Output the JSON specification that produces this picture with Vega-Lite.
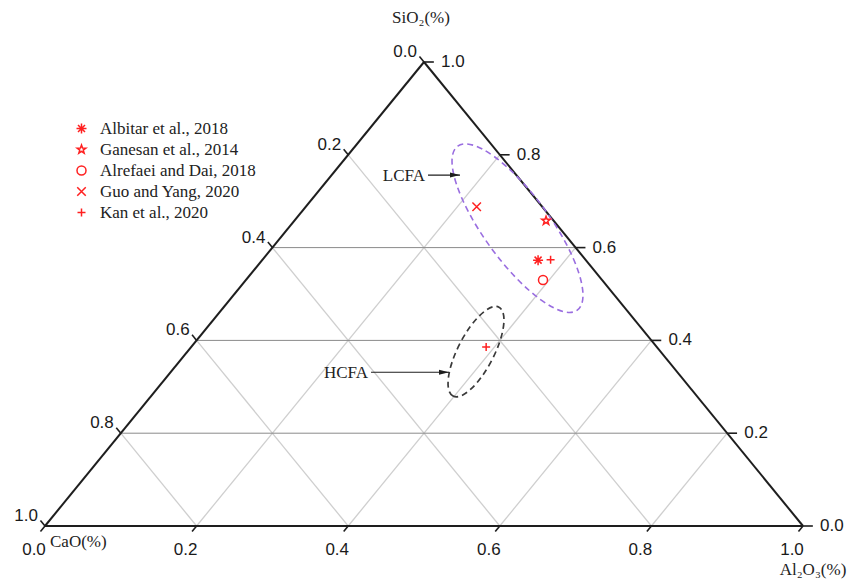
{
  "$schema": "https://vega.github.io/schema/vega-lite/v6.json",
  "width": 758,
  "height": 464,
  "autosize": {"type": "none"},
  "padding": {"left": 45, "top": 62, "right": 48, "bottom": 54},
  "background": "white",
  "config": {"view": {"stroke": null}},
  "data": {"values": [
    {"kind": "edge", "si": 0, "al": 0, "si2": 0, "al2": 1},
    {"kind": "edge", "si": 0, "al": 0, "si2": 1, "al2": 0},
    {"kind": "edge", "si": 0, "al": 1, "si2": 1, "al2": 0},
    {"kind": "hgrid", "si": 0.2, "al": 0, "si2": 0.2, "al2": 0.8},
    {"kind": "hgrid", "si": 0.4, "al": 0, "si2": 0.4, "al2": 0.6},
    {"kind": "hgrid", "si": 0.6, "al": 0, "si2": 0.6, "al2": 0.4},
    {"kind": "dgrid", "si": 0, "al": 0.2, "si2": 0.8, "al2": 0.2},
    {"kind": "dgrid", "si": 0, "al": 0.4, "si2": 0.6, "al2": 0.4},
    {"kind": "dgrid", "si": 0, "al": 0.6, "si2": 0.4, "al2": 0.6},
    {"kind": "dgrid", "si": 0, "al": 0.8, "si2": 0.2, "al2": 0.8},
    {"kind": "dgrid", "si": 0, "al": 0.8, "si2": 0.8, "al2": 0},
    {"kind": "dgrid", "si": 0, "al": 0.6, "si2": 0.6, "al2": 0},
    {"kind": "dgrid", "si": 0, "al": 0.4, "si2": 0.4, "al2": 0},
    {"kind": "dgrid", "si": 0, "al": 0.2, "si2": 0.2, "al2": 0},
    {"kind": "tick", "si": 1, "al": 0, "si2": 1.012, "al2": -0.012},
    {"kind": "tick", "si": 0.8, "al": 0, "si2": 0.812, "al2": -0.012},
    {"kind": "tick", "si": 0.6, "al": 0, "si2": 0.612, "al2": -0.012},
    {"kind": "tick", "si": 0.4, "al": 0, "si2": 0.412, "al2": -0.012},
    {"kind": "tick", "si": 0.2, "al": 0, "si2": 0.212, "al2": -0.012},
    {"kind": "tick", "si": 0, "al": 0, "si2": 0.012, "al2": -0.012},
    {"kind": "tick", "si": 0, "al": 0, "si2": -0.012, "al2": 0},
    {"kind": "tick", "si": 0, "al": 0.2, "si2": -0.012, "al2": 0.2},
    {"kind": "tick", "si": 0, "al": 0.4, "si2": -0.012, "al2": 0.4},
    {"kind": "tick", "si": 0, "al": 0.6, "si2": -0.012, "al2": 0.6},
    {"kind": "tick", "si": 0, "al": 0.8, "si2": -0.012, "al2": 0.8},
    {"kind": "tick", "si": 0, "al": 1, "si2": -0.012, "al2": 1},
    {"kind": "tick", "si": 0, "al": 1, "si2": 0, "al2": 1.013},
    {"kind": "tick", "si": 0.2, "al": 0.8, "si2": 0.2, "al2": 0.813},
    {"kind": "tick", "si": 0.4, "al": 0.6, "si2": 0.4, "al2": 0.613},
    {"kind": "tick", "si": 0.6, "al": 0.4, "si2": 0.6, "al2": 0.413},
    {"kind": "tick", "si": 0.8, "al": 0.2, "si2": 0.8, "al2": 0.213},
    {"kind": "tick", "si": 1, "al": 0, "si2": 1, "al2": 0.013},
    {"kind": "labL", "si": 1, "al": 0, "text": "0.0"},
    {"kind": "labL", "si": 0.8, "al": 0, "text": "0.2"},
    {"kind": "labL", "si": 0.6, "al": 0, "text": "0.4"},
    {"kind": "labL", "si": 0.4, "al": 0, "text": "0.6"},
    {"kind": "labL", "si": 0.2, "al": 0, "text": "0.8"},
    {"kind": "labL", "si": 0, "al": 0, "text": "1.0"},
    {"kind": "labR", "si": 0, "al": 1, "text": "0.0"},
    {"kind": "labR", "si": 0.2, "al": 0.8, "text": "0.2"},
    {"kind": "labR", "si": 0.4, "al": 0.6, "text": "0.4"},
    {"kind": "labR", "si": 0.6, "al": 0.4, "text": "0.6"},
    {"kind": "labR", "si": 0.8, "al": 0.2, "text": "0.8"},
    {"kind": "labR", "si": 1, "al": 0, "text": "1.0"},
    {"kind": "labB", "si": 0, "al": 0, "text": "0.0"},
    {"kind": "labB", "si": 0, "al": 0.2, "text": "0.2"},
    {"kind": "labB", "si": 0, "al": 0.4, "text": "0.4"},
    {"kind": "labB", "si": 0, "al": 0.6, "text": "0.6"},
    {"kind": "labB", "si": 0, "al": 0.8, "text": "0.8"},
    {"kind": "labB", "si": 0, "al": 1, "text": "1.0"},
    {"kind": "tTop", "si": 1, "al": 0, "text": "SiO₂(%)"},
    {"kind": "tLeft", "si": 0, "al": 0, "text": "CaO(%)"},
    {"kind": "tRight", "si": 0, "al": 1, "text": "Al₂O₃(%)"},
    {"kind": "ellL", "si": 0.6419, "al": 0.3024},
    {"kind": "ellH", "si": 0.3758, "al": 0.3807},
    {"kind": "arrow", "si": 0.7562, "al": 0.1272, "si2": 0.7562, "al2": 0.1694, "text": "LCFA"},
    {"kind": "arrow", "si": 0.3312, "al": 0.2645, "si2": 0.3312, "al2": 0.3674, "text": "HCFA"},
    {"kind": "pt", "source": "Albitar et al., 2018", "si": 0.573, "al": 0.364, "cao": 0.063},
    {"kind": "pt", "source": "Ganesan et al., 2014", "si": 0.658, "al": 0.332, "cao": 0.010},
    {"kind": "pt", "source": "Alrefaei and Dai, 2018", "si": 0.530, "al": 0.392, "cao": 0.078},
    {"kind": "pt", "source": "Guo and Yang, 2020", "si": 0.688, "al": 0.2255, "cao": 0.0865},
    {"kind": "pt", "source": "Kan et al., 2020", "si": 0.574, "al": 0.380, "cao": 0.046},
    {"kind": "pt", "source": "Kan et al., 2020", "si": 0.386, "al": 0.389, "cao": 0.225}
  ]},
  "transform": [
    {"calculate": "datum.al + datum.si / 2", "as": "x"},
    {"calculate": "datum.si", "as": "y"},
    {"calculate": "datum.al2 + datum.si2 / 2", "as": "x2"},
    {"calculate": "datum.si2", "as": "y2"}
  ],
  "encoding": {
    "x": {"field": "x", "type": "quantitative", "scale": {"domain": [0, 1], "nice": false, "zero": false}, "axis": null},
    "y": {"field": "y", "type": "quantitative", "scale": {"domain": [0, 1], "nice": false, "zero": false}, "axis": null}
  },
  "layer": [
    {
      "transform": [{"filter": "datum.kind === 'dgrid'"}],
      "mark": {"type": "rule", "color": "#cfcfcf", "strokeWidth": 1.3},
      "encoding": {"x2": {"field": "x2"}, "y2": {"field": "y2"}}
    },
    {
      "transform": [{"filter": "datum.kind === 'hgrid'"}],
      "mark": {"type": "rule", "color": "#8a8a8a", "strokeWidth": 1},
      "encoding": {"x2": {"field": "x2"}, "y2": {"field": "y2"}}
    },
    {
      "transform": [{"filter": "datum.kind === 'edge'"}],
      "mark": {"type": "rule", "color": "#1e1e1e", "strokeWidth": 2},
      "encoding": {"x2": {"field": "x2"}, "y2": {"field": "y2"}}
    },
    {
      "transform": [{"filter": "datum.kind === 'tick'"}],
      "mark": {"type": "rule", "color": "#1e1e1e", "strokeWidth": 1.6},
      "encoding": {"x2": {"field": "x2"}, "y2": {"field": "y2"}}
    },
    {
      "transform": [{"filter": "datum.kind === 'ellL'"}],
      "mark": {"type": "point", "filled": false, "shape": "M-1,0C-1,-0.18,-0.55,-0.325,0,-0.325C0.55,-0.325,1,-0.18,1,0C1,0.18,0.55,0.325,0,0.325C-0.55,0.325,-1,0.18,-1,0Z", "size": 41209, "angle": 53.9, "color": "#9a6ee0", "strokeWidth": 1.6, "strokeDash": [6, 4], "opacity": 1}
    },
    {
      "transform": [{"filter": "datum.kind === 'ellH'"}],
      "mark": {"type": "point", "filled": false, "shape": "M-1,0C-1,-0.2,-0.55,-0.36,0,-0.36C0.55,-0.36,1,-0.2,1,0C1,0.2,0.55,0.36,0,0.36C-0.55,0.36,-1,0.2,-1,0Z", "size": 10000, "angle": -62.7, "color": "#3a3a3a", "strokeWidth": 1.7, "strokeDash": [6, 4], "opacity": 1}
    },
    {
      "transform": [{"filter": "datum.kind === 'arrow'"}],
      "mark": {"type": "rule", "color": "#1e1e1e", "strokeWidth": 1.1},
      "encoding": {"x2": {"field": "x2"}, "y2": {"field": "y2"}}
    },
    {
      "transform": [{"filter": "datum.kind === 'arrow'"}],
      "mark": {"type": "point", "filled": true, "shape": "M0,0L-2,-0.5L-2,0.5Z", "size": 100, "color": "#1e1e1e", "opacity": 1},
      "encoding": {"x": {"field": "x2", "type": "quantitative"}, "y": {"field": "y2", "type": "quantitative"}}
    },
    {
      "transform": [{"filter": "datum.kind === 'arrow'"}],
      "mark": {"type": "text", "align": "right", "baseline": "middle", "dx": -3, "dy": 1, "font": "Liberation Serif", "fontSize": 17, "color": "#222"},
      "encoding": {"text": {"field": "text"}}
    },
    {
      "transform": [{"filter": "datum.kind === 'pt'"}],
      "mark": {"type": "point", "filled": false, "size": 100, "strokeWidth": 1.5, "color": "#ff2020", "opacity": 1},
      "encoding": {
        "shape": {
          "field": "source", "type": "nominal",
          "scale": {
            "domain": ["Albitar et al., 2018", "Ganesan et al., 2014", "Alrefaei and Dai, 2018", "Guo and Yang, 2020", "Kan et al., 2020"],
            "range": ["M-1,0L1,0M0,-1L0,1M-0.7,-0.7L0.7,0.7M-0.7,0.7L0.7,-0.7", "M0,-0.9L0.21,-0.29L0.86,-0.28L0.34,0.11L0.53,0.73L0,0.36L-0.53,0.73L-0.34,0.11L-0.86,-0.28L-0.21,-0.29Z", "M0,-0.9A0.9,0.9,0,1,1,0,0.9A0.9,0.9,0,1,1,0,-0.9Z", "M-0.85,-0.85L0.85,0.85M-0.85,0.85L0.85,-0.85", "M-0.8,0L0.8,0M0,-0.8L0,0.8"]
          },
          "legend": {
            "orient": "none", "legendX": 28, "legendY": 58, "title": null, "padding": 0,
            "labelFont": "Liberation Serif", "labelFontSize": 17, "labelColor": "#222",
            "symbolSize": 100, "symbolStrokeWidth": 1.5, "symbolStrokeColor": "#ff2020", "symbolFillColor": "transparent",
            "labelOffset": 10, "rowPadding": 3, "symbolOffset": 0
          }
        }
      }
    },
    {
      "transform": [{"filter": "datum.kind === 'labL'"}],
      "mark": {"type": "text", "align": "right", "baseline": "middle", "dx": -7, "dy": -10, "font": "Liberation Sans", "fontSize": 17, "color": "#1a1a1a"},
      "encoding": {"text": {"field": "text"}}
    },
    {
      "transform": [{"filter": "datum.kind === 'labR'"}],
      "mark": {"type": "text", "align": "left", "baseline": "middle", "dx": 17, "dy": 0, "font": "Liberation Sans", "fontSize": 17, "color": "#1a1a1a"},
      "encoding": {"text": {"field": "text"}}
    },
    {
      "transform": [{"filter": "datum.kind === 'labB'"}],
      "mark": {"type": "text", "align": "center", "baseline": "middle", "dx": -11, "dy": 24, "font": "Liberation Sans", "fontSize": 17, "color": "#1a1a1a"},
      "encoding": {"text": {"field": "text"}}
    },
    {
      "transform": [{"filter": "datum.kind === 'tTop'"}],
      "mark": {"type": "text", "align": "center", "baseline": "middle", "dx": -3, "dy": -44, "font": "Liberation Serif", "fontSize": 17, "color": "#222"},
      "encoding": {"text": {"field": "text"}}
    },
    {
      "transform": [{"filter": "datum.kind === 'tLeft'"}],
      "mark": {"type": "text", "align": "left", "baseline": "middle", "dx": 5, "dy": 16, "font": "Liberation Serif", "fontSize": 17, "color": "#222"},
      "encoding": {"text": {"field": "text"}}
    },
    {
      "transform": [{"filter": "datum.kind === 'tRight'"}],
      "mark": {"type": "text", "align": "center", "baseline": "middle", "dx": 10, "dy": 44, "font": "Liberation Serif", "fontSize": 17, "color": "#222"},
      "encoding": {"text": {"field": "text"}}
    }
  ]
}
